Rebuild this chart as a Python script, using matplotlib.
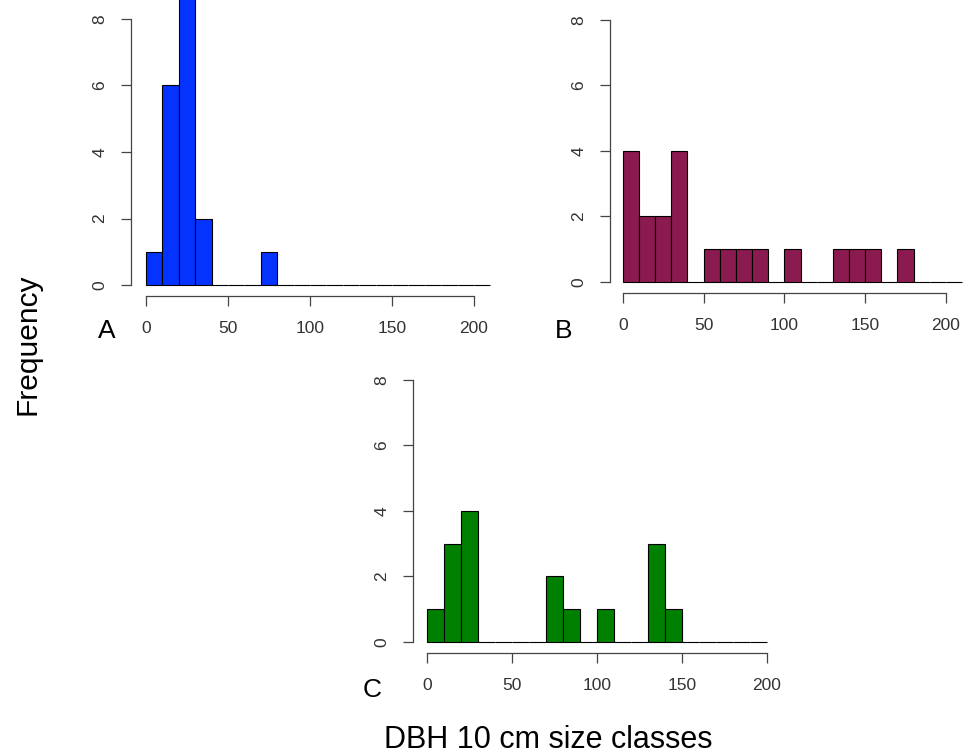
import numpy as np
import matplotlib.pyplot as plt

plt.rcParams['font.family'] = ['Liberation Sans', 'DejaVu Sans']

# trees per 10 cm DBH class
counts_a = [1, 6, 9, 2, 0, 0, 0, 1, 0, 0, 0, 0, 0, 0, 0, 0, 0, 0, 0, 0, 0]
counts_b = [4, 2, 2, 4, 0, 1, 1, 1, 1, 0, 1, 0, 0, 1, 1, 1, 0, 1, 0, 0, 0]
counts_c = [1, 3, 4, 0, 0, 0, 0, 2, 1, 0, 1, 0, 0, 3, 1, 0, 0, 0, 0, 0]
panel_labels = ['A', 'B', 'C']
x_ticks = [0, 50, 100, 150, 200]
y_ticks = [0, 2, 4, 6, 8]

W, H = 966, 755
fig = plt.figure(figsize=(W / 100, H / 100), dpi=100)


def px_axes(left, right, top, bottom):
    return fig.add_axes([left / W, 1 - bottom / H, (right - left) / W, (bottom - top) / H])


def r_hist(ax, counts, color, xlim, ylim):
    edges = np.arange(len(counts) + 1) * 10
    ax.bar(edges[:-1], counts, width=10, align='edge', color=color,
           edgecolor='black', linewidth=0.8)
    ax.set_xlim(*xlim)
    ax.set_ylim(*ylim)
    for s in ['top', 'right']:
        ax.spines[s].set_visible(False)
    ax.spines['left'].set_bounds(0, 8)
    ax.spines['bottom'].set_bounds(0, 200)
    for s in ['left', 'bottom']:
        ax.spines[s].set_color('#444444')
        ax.spines[s].set_linewidth(0.9)
    ax.set_xticks(x_ticks)
    ax.set_yticks(y_ticks)
    ax.tick_params(axis='both', length=7, width=0.9, color='#444444',
                   labelsize=12.5, labelcolor='#333333')
    ax.tick_params(axis='x', pad=11)
    ax.tick_params(axis='y', pad=10)
    for lab in ax.get_yticklabels():
        lab.set_rotation(90)
        lab.set_va('center')
    ax.patch.set_visible(False)


ax_a = px_axes(131, 493.7, 0, 296)
r_hist(ax_a, counts_a, '#0433ff', (-9.1, 212), (-0.33, 8.57))

ax_b = px_axes(610, 966, 10, 293)
r_hist(ax_b, counts_b, '#8b1a4f', (-7.9, 212.4), (-0.345, 8.3))

ax_c = px_axes(413, 780.3, 370.2, 652.7)
r_hist(ax_c, counts_c, '#008000', (-8.4, 208), (-0.336, 8.3))

for lab, (x, y) in zip(panel_labels, [(107, 331), (564, 331), (372, 690)]):
    fig.text(x / W, 1 - y / H, lab, fontsize=19, ha='center', va='center')

fig.text(548 / W, 1 - 740 / H, 'DBH 10 cm size classes', fontsize=22,
         ha='center', va='center')
fig.text(27 / W, 1 - 344 / H, 'Frequency', fontsize=21.5, rotation=90,
         ha='center', va='center')

fig.savefig('out.png', dpi=100)
